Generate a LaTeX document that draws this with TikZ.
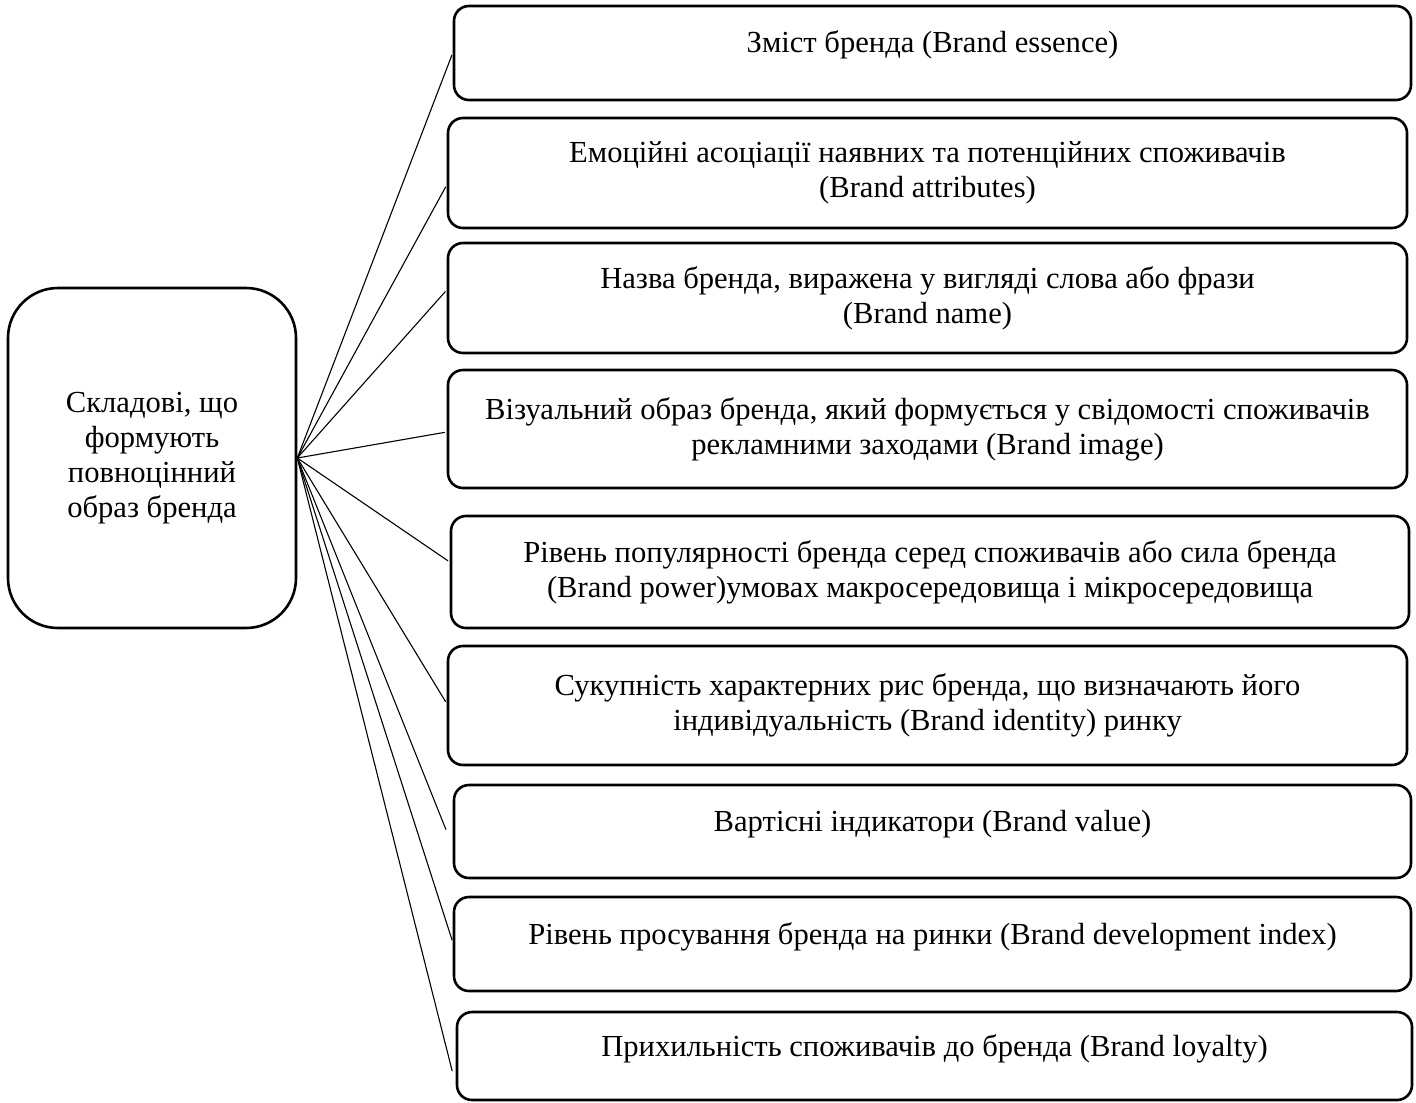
\documentclass[tikz,border=0pt]{standalone}
\usepackage{fontspec}
\setmainfont{Liberation Serif}

\begin{document}
\begin{tikzpicture}[
    x=0.5pt, y=-0.5pt,
    box/.style={draw, line width=1.3pt, rounded corners=7.5pt, align=center,
                font=\fontsize{15.3}{17.5}\selectfont, inner sep=0pt},
    oneline/.style={text height=9pt, text depth=9pt},
    hubbox/.style={box, rounded corners=25pt},
    link/.style={line width=0.55pt, shorten >=1pt}
  ]
  \useasboundingbox (0,0) rectangle (1416,1102);

  % Left: the whole brand image
  \node[hubbox, minimum width=144pt, minimum height=170pt] (core) at (152,458)
    {Складові, що\\формують\\повноцінний\\образ бренда};

  % Right column: components
  \node[box, oneline, minimum width=478.5pt, minimum height=47pt] (essence) at (932.5,53)
    {Зміст бренда (Brand essence)};
  \node[box, minimum width=479.5pt, minimum height=55pt] (attributes) at (927.5,173)
    {Емоційні асоціації наявних та потенційних споживачів\\(Brand attributes)};
  \node[box, minimum width=479.5pt, minimum height=55pt] (name) at (927.5,298)
    {Назва бренда, виражена у вигляді слова або фрази\\(Brand name)};
  \node[box, minimum width=479.5pt, minimum height=59pt] (image) at (927.5,429)
    {Візуальний образ бренда, який формується у свідомості споживачів\\рекламними заходами (Brand image)};
  \node[box, minimum width=479pt, minimum height=56pt] (power) at (930,572)
    {Рівень популярності бренда серед споживачів або сила бренда\\(Brand power)умовах макросередовища і мікросередовища};
  \node[box, minimum width=479.5pt, minimum height=59.5pt] (identity) at (927.5,705.5)
    {Сукупність характерних рис бренда, що визначають його\\індивідуальність (Brand identity) ринку};
  \node[box, oneline, minimum width=478.5pt, minimum height=46.5pt] (value) at (932.5,831.5)
    {Вартісні індикатори (Brand value)};
  \node[box, oneline, minimum width=478.5pt, minimum height=47pt] (devindex) at (932.5,944)
    {Рівень просування бренда на ринки (Brand development index)};
  \node[box, oneline, minimum width=477.5pt, minimum height=44pt] (loyalty) at (934.5,1056)
    {Прихильність споживачів до бренда (Brand loyalty)};

  % Links
  \draw[link] (core.east) -- (essence.west);
  \draw[link] (core.east) -- ([yshift=-6pt]attributes.west);
  \draw[link] (core.east) -- ([yshift=4pt]name.west);
  \draw[link] (core.east) -- ([yshift=-1.5pt]image.west);
  \draw[link] (core.east) -- ([yshift=5pt]power.west);
  \draw[link] (core.east) -- ([yshift=1pt]identity.west);
  \draw[link] (core.east) -- ([xshift=-3pt]value.west);
  \draw[link] (core.east) -- ([yshift=1pt]devindex.west);
  \draw[link] (core.east) -- ([xshift=-1.5pt,yshift=-8.5pt]loyalty.west);
\end{tikzpicture}
\end{document}
